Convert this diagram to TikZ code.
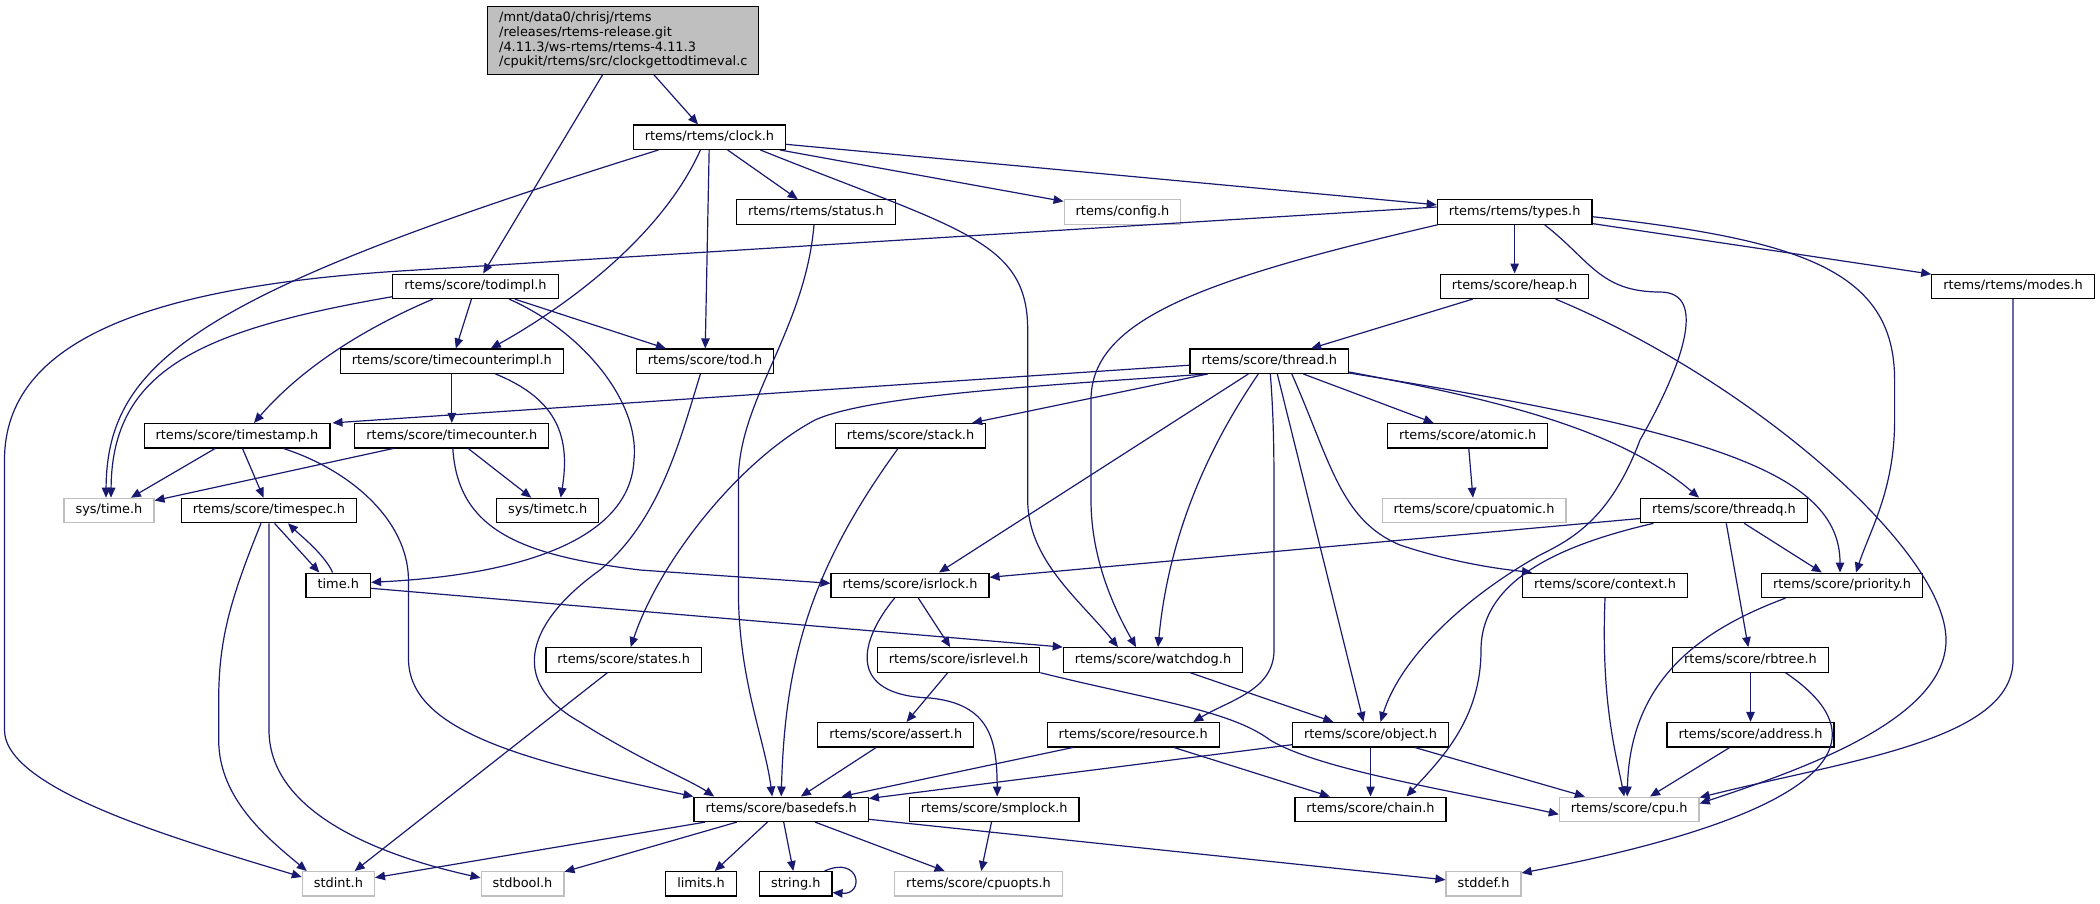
\documentclass[tikz,border=0pt]{standalone}
\usepackage{fontspec}
\setmainfont{DejaVu Sans}
\usetikzlibrary{arrows.meta}
\definecolor{edgeblue}{HTML}{191970}
\definecolor{extgray}{HTML}{BFBFBF}
\tikzset{
  hdr/.style={draw=black, fill=white, line width=1.2pt,
    font=\fontsize{12.9}{14.7}\selectfont,
    inner xsep=11.5pt, inner ysep=4.4pt, text height=11.2pt, text depth=4.4pt},
  ext/.style={hdr, draw=extgray},
  srcfile/.style={draw=black, fill=extgray, line width=1.2pt,
    font=\fontsize{12.9}{14.7}\selectfont, align=left,
    minimum width=271pt, minimum height=68pt},
  inc/.style={draw=edgeblue, line width=1.2pt, -{Triangle[length=10pt,width=8.5pt]}},
}

\begin{document}
\begin{tikzpicture}[x=1pt,y=-1pt]
    \useasboundingbox (0,0) rectangle (2100,903);
    \fill[white] (0,0) rectangle (2100,903);

    \node[srcfile] (root) at (623.3,40.3) {/mnt/data0/chrisj/rtems\\/releases/rtems-release.git\\/4.11.3/ws-rtems/rtems-4.11.3\\/cpukit/rtems/src/clockgettodtimeval.c};
    \node[hdr] (clock)     at (709.4,137.2)  {rtems/rtems/clock.h};
    \node[hdr] (status)    at (816,212)      {rtems/rtems/status.h};
    \node[ext] (config)    at (1122.5,212)   {rtems/config.h};
    \node[hdr] (types)     at (1514.6,212)   {rtems/rtems/types.h};
    \node[hdr] (todimpl)   at (475.5,286.3)  {rtems/score/todimpl.h};
    \node[hdr] (heap)      at (1514.6,286.3) {rtems/score/heap.h};
    \node[hdr] (modes)     at (2013,286.3)   {rtems/rtems/modes.h};
    \node[hdr] (tcimpl)    at (451.8,361.2)  {rtems/score/timecounterimpl.h};
    \node[hdr] (tod)       at (705,361.2)    {rtems/score/tod.h};
    \node[hdr] (thread)    at (1269.3,361.2) {rtems/score/thread.h};
    \node[hdr] (tstamp)    at (237,435.7)    {rtems/score/timestamp.h};
    \node[hdr] (tcounter)  at (451.8,435.7)  {rtems/score/timecounter.h};
    \node[hdr] (stack)     at (910.5,435.7)  {rtems/score/stack.h};
    \node[hdr] (atomic)    at (1467.7,435.7) {rtems/score/atomic.h};
    \node[ext] (systime)   at (109,510.5)    {sys/time.h};
    \node[hdr] (tspec)     at (269,510.5)    {rtems/score/timespec.h};
    \node[hdr] (timetc)    at (547.7,510.5)  {sys/timetc.h};
    \node[ext] (cpuatomic) at (1474,510.5)   {rtems/score/cpuatomic.h};
    \node[hdr] (threadq)   at (1724,510.5)   {rtems/score/threadq.h};
    \node[hdr] (timeh)     at (338.3,585.3)  {time.h};
    \node[hdr] (isrlock)   at (910,585.3)    {rtems/score/isrlock.h};
    \node[hdr] (context)   at (1605,585.3)   {rtems/score/context.h};
    \node[hdr] (priority)  at (1842,585.3)   {rtems/score/priority.h};
    \node[hdr] (states)    at (623.7,659.9)  {rtems/score/states.h};
    \node[hdr] (isrlevel)  at (958.5,659.9)  {rtems/score/isrlevel.h};
    \node[hdr] (watchdog)  at (1153,659.9)   {rtems/score/watchdog.h};
    \node[hdr] (rbtree)    at (1750.5,659.9) {rtems/score/rbtree.h};
    \node[hdr] (assert)    at (895.8,734.7)  {rtems/score/assert.h};
    \node[hdr] (resource)  at (1133.2,734.7) {rtems/score/resource.h};
    \node[hdr] (object)    at (1370.5,734.7) {rtems/score/object.h};
    \node[hdr] (address)   at (1750.5,734.7) {rtems/score/address.h};
    \node[hdr] (basedefs)  at (781.2,809.3)  {rtems/score/basedefs.h};
    \node[hdr] (smplock)   at (994.2,809.3)  {rtems/score/smplock.h};
    \node[hdr] (chain)     at (1370.5,809.3) {rtems/score/chain.h};
    \node[ext] (cpu)       at (1629.2,809.3) {rtems/score/cpu.h};
    \node[ext] (stdint)    at (338.4,883.8)  {stdint.h};
    \node[ext] (stdbool)   at (522.5,883.8)  {stdbool.h};
    \node[hdr] (limits)    at (701,883.8)    {limits.h};
    \node[hdr] (stringh)   at (795.8,883.8)  {string.h};
    \node[ext] (cpuopts)   at (978.5,883.8)  {rtems/score/cpuopts.h};
    \node[ext] (stddef)    at (1483.5,883.8) {stddef.h};

    % source file
    \draw[inc] (root) -- (todimpl);
    \draw[inc] (root) -- (clock);
    % clock.h
    \draw[inc] ([xshift=-51pt]clock.south) .. controls (200,293) and (107,360) .. ([xshift=-3pt]systime.north);
    \draw[inc] ([xshift=-9pt]clock.south) .. controls (660,240) and (560,310) .. ([xshift=39pt]tcimpl.north);
    \draw[inc] (clock) -- (tod);
    \draw[inc] (clock) -- (status);
    \draw[inc] ([xshift=51pt]clock.south) .. controls (960,230) and (1027.7,240) .. (1027.7,330) -- (1027.7,500) .. controls (1027.7,560) and (1080,600) .. ([xshift=-35pt]watchdog.north);
    \draw[inc] (clock) -- (config);
    \draw[inc] (clock) -- (types);
    \draw[inc] ([xshift=-2pt]status.south) .. controls (805,330) and (738.4,400) .. (738.4,480) -- (738.4,590) .. controls (738.4,680) and (765,740) .. ([xshift=-9pt]basedefs.north);
    % types.h
    \draw[inc] ([yshift=5pt]types.west) -- (400,271) .. controls (150,287) and (4.5,340) .. (4.5,460) -- (4.5,730) .. controls (4.5,790) and (180,840) .. ([yshift=-6pt]stdint.north west);
    \draw[inc] ([xshift=-77pt]types.south) .. controls (1200,280) and (1091,320) .. (1091,400) -- (1091,500) .. controls (1091,560) and (1115,610) .. ([xshift=-17pt]watchdog.north);
    \draw[inc] (types) -- (heap);
    \draw[inc] (types) -- (modes);
    \draw[inc] ([yshift=-4.7pt]types.east) .. controls (1800,240) and (1894.6,270) .. (1894.6,380) -- (1894.6,420) .. controls (1894.6,490) and (1870,530) .. ([xshift=14pt]priority.north);
    \draw[inc] ([xshift=30pt]types.south) .. controls (1590,260) and (1600,292) .. (1660,292) .. controls (1710,292) and (1680,370) .. (1640,440) .. controls (1610,520) and (1570,540) .. (1540,555) .. controls (1460,600) and (1400,660) .. ([xshift=10pt]object.north);
    \draw[inc] (heap) -- (thread);
    \draw[inc] ([xshift=41pt]heap.south) .. controls (1750,380) and (1946,550) .. (1946,640) .. controls (1946,720) and (1800,770) .. ([yshift=-7pt]cpu.north east);
    \draw[inc] (modes.south) -- (2013,660) .. controls (2013,740) and (1850,760) .. ([yshift=-1pt]cpu.north east);
    % thread.h
    \draw[inc] ([yshift=-4pt]thread.west) -- ([xshift=2pt]tstamp.north east);
    \draw[inc] ([xshift=-62pt]thread.south) .. controls (1050,385) and (870,395) .. (815,420) .. controls (740,460) and (660,560) .. ([xshift=7pt]states.north);
    \draw[inc] (thread) -- (stack);
    \draw[inc] ([xshift=-21pt]thread.south) -- ([xshift=29pt]isrlock.north);
    \draw[inc] ([xshift=-11pt]thread.south) .. controls (1220,430) and (1170,520) .. ([xshift=5pt]watchdog.north);
    \draw[inc] ([xshift=1pt]thread.south) .. controls (1274,420) and (1274,460) .. (1274,500) -- (1274,650) .. controls (1274,690) and (1230,700) .. ([xshift=60pt]resource.north);
    \draw[inc] ([xshift=8pt]thread.south) -- ([xshift=-7pt]object.north);
    \draw[inc] ([xshift=22.5pt]thread.south) .. controls (1330,460) and (1340,520) .. (1400,545) .. controls (1460,565) and (1510,570) .. ([xshift=10pt]context.north west);
    \draw[inc] (thread) -- (atomic);
    \draw[inc] ([yshift=2pt]thread.south east) .. controls (1500,400) and (1620,430) .. ([xshift=-25pt]threadq.north);
    \draw[inc] ([yshift=1pt]thread.south east) .. controls (1700,430) and (1840,470) .. ([xshift=-2pt]priority.north);
    % threadq.h
    \draw[inc] ([yshift=-8pt]threadq.west) -- ([yshift=8pt]isrlock.east);
    \draw[inc] ([xshift=-70.5pt]threadq.south) .. controls (1560,545) and (1481,580) .. (1481,650) .. controls (1481,720) and (1440,760) .. ([xshift=36pt]chain.north);
    \draw[inc] (threadq) -- (priority);
    \draw[inc] (threadq) -- (rbtree);
    \draw[inc] (atomic) -- (cpuatomic);
    \draw[inc] (context.south) .. controls (1601,700) and (1615,750) .. ([xshift=-5pt]cpu.north);
    \draw[inc] ([xshift=-56.5pt]priority.south) .. controls (1700,630) and (1630,680) .. ([xshift=-2pt]cpu.north);
    \draw[inc] (rbtree) -- (address);
    \draw[inc] ([xshift=35pt]rbtree.south) .. controls (1900,750) and (1800,820) .. ([yshift=-2pt]stddef.north east);
    \draw[inc] (address) -- (cpu);
    % object.h, watchdog.h, resource.h
    \draw[inc] ([yshift=-10pt]object.west) -- ([yshift=-2pt]basedefs.north east);
    \draw[inc] (object) -- (chain);
    \draw[inc] (object) -- (cpu);
    \draw[inc] (watchdog) -- (object);
    \draw[inc] (resource) -- (basedefs);
    \draw[inc] (resource) -- (chain);
    % isrlock.h, isrlevel.h
    \draw[inc] (isrlevel) -- (assert);
    \draw[inc] (isrlevel.south east) .. controls (1150,700) and (1230,710) .. (1270,740) .. controls (1320,770) and (1450,790) .. ([yshift=-5pt]cpu.west);
    \draw[inc] (isrlock) -- (isrlevel);
    \draw[inc] ([xshift=-15.4pt]isrlock.south) .. controls (860,640) and (845,695) .. (930,698) .. controls (990,704) and (997,740) .. ([xshift=3pt]smplock.north);
    \draw[inc] (assert) -- (basedefs);
    \draw[inc] (smplock) -- (cpuopts);
    % basedefs.h
    \draw[inc] (basedefs) -- (stdint);
    \draw[inc] (basedefs) -- (stdbool);
    \draw[inc] (basedefs) -- (limits);
    \draw[inc] (basedefs) -- (stringh);
    \draw[inc] (basedefs) -- (cpuopts);
    \draw[inc] ([yshift=-10pt]basedefs.east) -- ([yshift=4pt]stddef.west);
    \draw[inc] ([xshift=-8pt]stringh.north east) .. controls (860,855) and (865,895) .. ([yshift=4pt]stringh.south east);
    \draw[inc] ([xshift=-12.5pt]stack.south) .. controls (810,570) and (785,660) .. (basedefs.north);
    \draw[inc] (states) -- (stdint);
    \draw[inc] ([xshift=-4.6pt]tod.south) .. controls (680,440) and (660,520) .. (600,570) .. controls (530,620) and (505,680) .. (580,722) .. controls (640,760) and (690,780) .. ([xshift=-67pt]basedefs.north);
    % timestamp.h, timecounter.h
    \draw[inc] (tstamp) -- (systime);
    \draw[inc] (tstamp) -- (tspec);
    \draw[inc] ([xshift=46.5pt]tstamp.south) .. controls (350,470) and (408,520) .. (408.5,580) -- (408.5,660) .. controls (410,730) and (520,760) .. (basedefs.north west);
    \draw[inc] (tcounter) -- (systime);
    \draw[inc] (tcounter) -- (timetc);
    \draw[inc] ([xshift=1pt]tcounter.south) .. controls (458,530) and (520,555) .. (640,570) -- ([yshift=2pt]isrlock.west);
    \draw[inc] (tcimpl) -- (tcounter);
    \draw[inc] ([xshift=43.7pt]tcimpl.south) .. controls (560,400) and (570,440) .. ([xshift=13pt]timetc.north);
    % todimpl.h
    \draw[inc] ([yshift=-10.4pt]todimpl.west) .. controls (200,330) and (112,370) .. ([xshift=2pt]systime.north);
    \draw[inc] ([xshift=-42.5pt]todimpl.south) .. controls (360,330) and (300,370) .. ([xshift=17pt]tstamp.north);
    \draw[inc] (todimpl) -- (tcimpl);
    \draw[inc] (todimpl) -- (tod);
    \draw[inc] ([xshift=33.5pt]todimpl.south) .. controls (580,330) and (640,400) .. (634,460) .. controls (630,540) and (520,575) .. ([yshift=3pt]timeh.east);
    % timespec.h, time.h
    \draw[inc] ([xshift=5.5pt]tspec.south) -- ([xshift=-19pt]timeh.north);
    \draw[inc] ([xshift=-5.7pt]timeh.north) .. controls (325,555) and (300,535) .. ([xshift=19pt]tspec.south);
    \draw[inc] ([xshift=-8pt]tspec.south) .. controls (230,600) and (218.7,640) .. (218.7,700) -- (218.7,740) .. controls (218.7,800) and (270,840) .. ([xshift=5pt]stdint.north west);
    \draw[inc] (tspec.south) -- (269,730) .. controls (269,820) and (400,860) .. ([yshift=6pt]stdbool.west);
    \draw[inc] ([yshift=-3pt]timeh.east) -- (watchdog.north west);
\end{tikzpicture}
\end{document}
